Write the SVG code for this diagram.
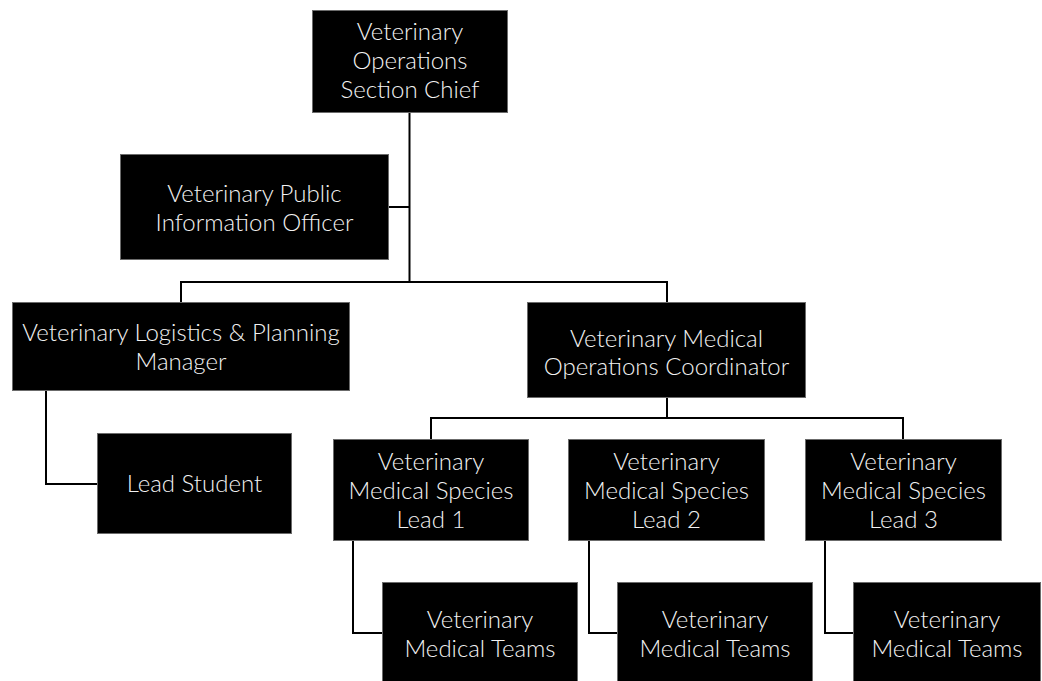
<svg xmlns="http://www.w3.org/2000/svg" width="1042" height="681" viewBox="0 0 1042 681">
<style>
.box{fill:#000;stroke:#6b6b6b;stroke-width:1}
.t{fill:#f2f2f2;font-family:Lato,"Open Sans","Liberation Sans",sans-serif;font-weight:300;font-size:24px;text-anchor:middle}
.c{fill:none;stroke:#000;stroke-width:2}
</style>
<rect width="1042" height="681" fill="#fff"/>
<g id="connectors">
<path class="c" d="M409.5 112V282"/>
<path class="c" d="M389 207H409.5"/>
<path class="c" d="M181 302V282H667V302"/>
<path class="c" d="M46 390V484H97"/>
<path class="c" d="M667 398V418"/>
<path class="c" d="M431 439V418H903V439"/>
<path class="c" d="M353 541V633H382"/>
<path class="c" d="M589 541V633H617"/>
<path class="c" d="M825 541V633H853"/>
</g>
<g id="chief"><rect class="box" x="312.5" y="10.5" width="195" height="102"/>
<text class="t" x="410" y="40">Veterinary</text><text class="t" x="410" y="69">Operations</text><text class="t" x="410" y="98">Section Chief</text></g>
<g id="pio"><rect class="box" x="120.5" y="154.5" width="268" height="105"/>
<text class="t" x="254.5" y="202">Veterinary Public</text><text class="t" x="254.5" y="231">Information Officer</text></g>
<g id="logistics"><rect class="box" x="12.5" y="302.5" width="337" height="88"/>
<text class="t" x="181" y="341">Veterinary Logistics &amp; Planning</text><text class="t" x="181" y="370">Manager</text></g>
<g id="coordinator"><rect class="box" x="527.5" y="302.5" width="278" height="95"/>
<text class="t" x="666.5" y="347">Veterinary Medical</text><text class="t" x="666.5" y="375">Operations Coordinator</text></g>
<g id="student"><rect class="box" x="97.5" y="433.5" width="194" height="100"/>
<text class="t" x="194.5" y="492">Lead Student</text></g>
<g id="lead1"><rect class="box" x="333.5" y="439.5" width="195" height="101"/>
<text class="t" x="431" y="470">Veterinary</text><text class="t" x="431" y="499">Medical Species</text><text class="t" x="431" y="528">Lead 1</text></g>
<g id="lead2"><rect class="box" x="568.5" y="439.5" width="196" height="101"/>
<text class="t" x="666.5" y="470">Veterinary</text><text class="t" x="666.5" y="499">Medical Species</text><text class="t" x="666.5" y="528">Lead 2</text></g>
<g id="lead3"><rect class="box" x="805.5" y="439.5" width="196" height="101"/>
<text class="t" x="903.5" y="470">Veterinary</text><text class="t" x="903.5" y="499">Medical Species</text><text class="t" x="903.5" y="528">Lead 3</text></g>
<g id="teams1"><rect class="box" x="382.5" y="582.5" width="195" height="99"/>
<text class="t" x="480" y="628">Veterinary</text><text class="t" x="480" y="657">Medical Teams</text></g>
<g id="teams2"><rect class="box" x="617.5" y="582.5" width="195" height="99"/>
<text class="t" x="715" y="628">Veterinary</text><text class="t" x="715" y="657">Medical Teams</text></g>
<g id="teams3"><rect class="box" x="853.5" y="582.5" width="187" height="99"/>
<text class="t" x="947" y="628">Veterinary</text><text class="t" x="947" y="657">Medical Teams</text></g>
</svg>
